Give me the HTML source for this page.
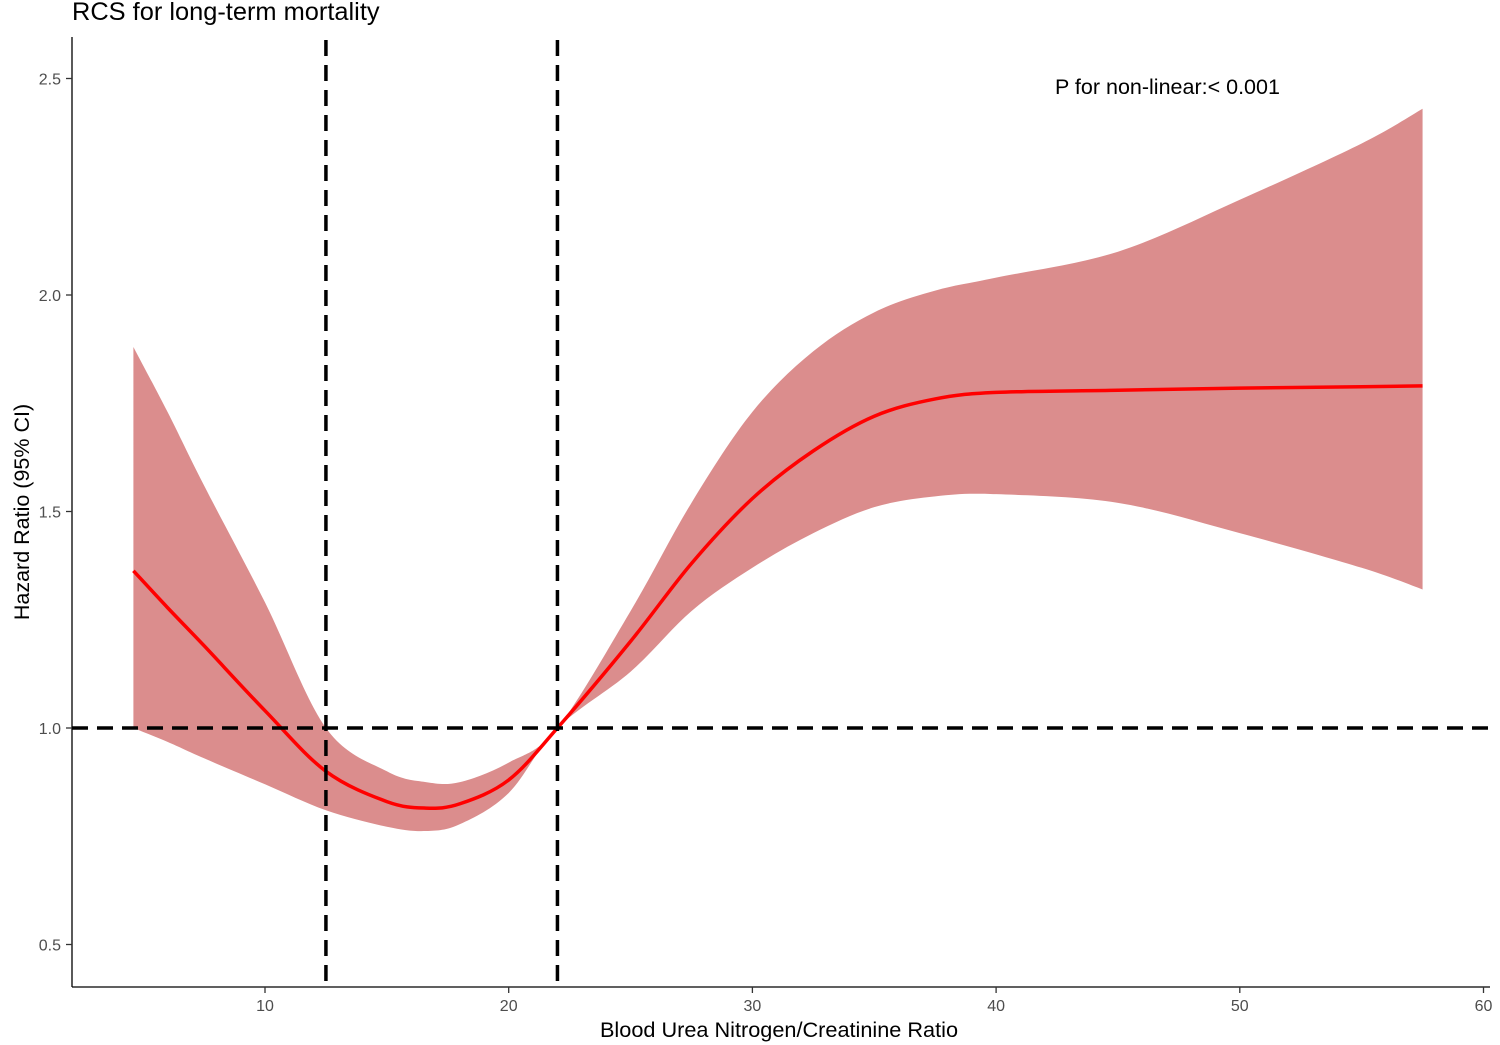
<!DOCTYPE html>
<html><head><meta charset="utf-8"><style>
html,body{margin:0;padding:0;background:#fff;}
svg{display:block;font-family:"Liberation Sans",sans-serif;}
</style></head><body>
<svg id="chart" width="1500" height="1045">
<text x="72" y="20" font-size="25.4" fill="#000">RCS for long-term mortality</text>
<g id="plot"></g>
</svg>
<script>
const xs =    [4.6, 6, 7.5, 10, 12.5, 15, 16.6, 18, 20, 22, 25, 27.5, 30, 32.5, 35, 37.5, 40, 45, 50, 55, 57.5];
const hr =    [1.363, 1.278, 1.19, 1.04, 0.90, 0.83, 0.815, 0.825, 0.88, 1.0, 1.2, 1.38, 1.53, 1.64, 1.72, 1.76, 1.775, 1.78, 1.785, 1.788, 1.79];
const lower = [1.0, 0.968, 0.93, 0.87, 0.81, 0.772, 0.762, 0.778, 0.85, 1.0, 1.13, 1.27, 1.37, 1.45, 1.51, 1.535, 1.54, 1.52, 1.45, 1.37, 1.32];
const upper = [1.88, 1.73, 1.56, 1.29, 1.0, 0.9, 0.875, 0.875, 0.92, 1.0, 1.27, 1.52, 1.73, 1.87, 1.96, 2.01, 2.04, 2.10, 2.22, 2.35, 2.43];
const xTicks = [10, 20, 30, 40, 50, 60];
const yTicks = [0.5, 1.0, 1.5, 2.0, 2.5];
const vRefs = [12.5, 22];
const hRef = 1.0;

const X = v => 265 + (v - 10) * 24.37;
const Y = v => 728 - (v - 1) * 433;
const NS = "http://www.w3.org/2000/svg";
const g = document.getElementById('plot');
function mk(tag, attrs, name){
  const e = document.createElementNS(NS, tag);
  for (const k in attrs) e.setAttribute(k, attrs[k]);
  
  
  g.appendChild(e); return e;
}
function smooth(pts, move){
  let d = move ? `M${pts[0][0]},${pts[0][1]}` : `L${pts[0][0]},${pts[0][1]}`;
  for (let i = 0; i < pts.length - 1; i++){
    const p0 = pts[Math.max(0,i-1)], p1 = pts[i], p2 = pts[i+1], p3 = pts[Math.min(pts.length-1,i+2)];
    const c1 = [p1[0]+(p2[0]-p0[0])/6, p1[1]+(p2[1]-p0[1])/6];
    const c2 = [p2[0]-(p3[0]-p1[0])/6, p2[1]-(p3[1]-p1[1])/6];
    d += ` C${c1[0]},${c1[1]} ${c2[0]},${c2[1]} ${p2[0]},${p2[1]}`;
  }
  return d;
}
const up = xs.map((x,i)=>[X(x),Y(upper[i])]);
const lo = xs.map((x,i)=>[X(x),Y(lower[i])]).reverse();
mk('path', {d: smooth(up,true) + ' ' + smooth(lo,false) + ' Z', fill:'#db8d8d', stroke:'none'}, 'ci-band');
mk('path', {d: smooth(xs.map((x,i)=>[X(x),Y(hr[i])]),true), fill:'none', stroke:'#ff0000', 'stroke-width':3.5}, 'hazard-ratio-line');
vRefs.forEach(v => {
  mk('line', {x1:X(v), x2:X(v), y1:40, y2:987, stroke:'#000', 'stroke-width':3.5, 'stroke-dasharray':'16,9'}, 'vertical-reference-line');
});
mk('line', {x1:72, x2:1490, y1:Y(hRef), y2:Y(hRef), stroke:'#000', 'stroke-width':3.5, 'stroke-dasharray':'16,9'}, 'hr-one-reference-line');
mk('line', {x1:72, x2:72, y1:37, y2:987, stroke:'#000', 'stroke-width':1.3}, 'y-axis-line');
mk('line', {x1:72, x2:1490, y1:987, y2:987, stroke:'#000', 'stroke-width':1.3}, 'x-axis-line');
xTicks.forEach(t => {
  mk('line', {x1:X(t), x2:X(t), y1:987, y2:993, stroke:'#333', 'stroke-width':1.3}, 'x-tick');
  const e = mk('text', {x:X(t), y:1011, 'font-size':16, fill:'#4d4d4d', 'text-anchor':'middle'}, 'x-tick-label');
  e.textContent = t;
});
yTicks.forEach(t => {
  mk('line', {x1:66, x2:72, y1:Y(t), y2:Y(t), stroke:'#333', 'stroke-width':1.3}, 'y-tick');
  const e = mk('text', {x:61, y:Y(t)+6, 'font-size':16, fill:'#4d4d4d', 'text-anchor':'end'}, 'y-tick-label');
  e.textContent = t.toFixed(1);
});
let t = mk('text', {x:779, y:1037, 'font-size':21.7, fill:'#000', 'text-anchor':'middle'}, 'x-axis-title');
t.textContent = 'Blood Urea Nitrogen/Creatinine Ratio';
t = mk('text', {x:0, y:0, 'font-size':21.5, fill:'#000', 'text-anchor':'middle', transform:'translate(29,512) rotate(-90)'}, 'y-axis-title');
t.textContent = 'Hazard Ratio (95% CI)';
t = mk('text', {x:1055, y:94, 'font-size':21.5, fill:'#000'}, 'p-nonlinear-annotation');
t.textContent = 'P for non-linear:< 0.001';
</script>
</body></html>
